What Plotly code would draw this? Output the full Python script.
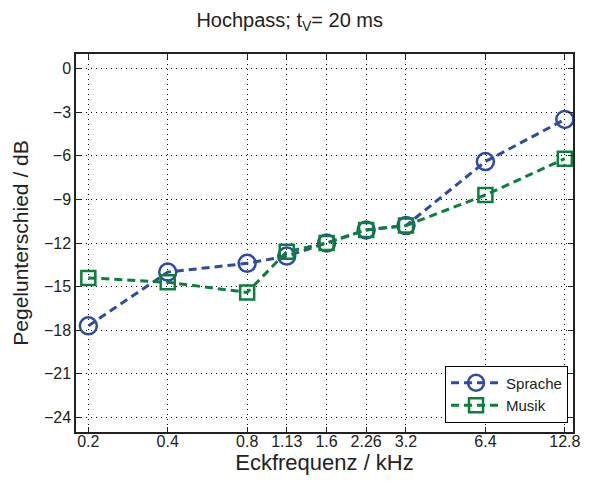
import plotly.graph_objects as go

freqs = [0.2, 0.4, 0.8, 1.13, 1.6, 2.26, 3.2, 6.4, 12.8]
freq_labels = ["0.2", "0.4", "0.8", "1.13", "1.6", "2.26", "3.2", "6.4", "12.8"]
sprache = [-17.7, -14.0, -13.4, -12.9, -12.0, -11.1, -10.8, -6.4, -3.5]
musik = [-14.4, -14.7, -15.4, -12.6, -12.0, -11.1, -10.8, -8.7, -6.2]
y_ticks = [0, -3, -6, -9, -12, -15, -18, -21, -24]
y_labels = ["0", "\u22123", "\u22126", "\u22129", "\u221212", "\u221215", "\u221218", "\u221221", "\u221224"]

blue = "rgb(46,74,168)"
green = "rgb(10,128,60)"

fig = go.Figure()
fig.add_trace(go.Scatter(
    x=freqs, y=sprache, name="Sprache", mode="lines+markers",
    line=dict(color=blue, width=3, dash="8px,5px"),
    marker=dict(symbol="circle-open", size=17, color=blue, line=dict(width=2.5, color=blue)),
))
fig.add_trace(go.Scatter(
    x=freqs, y=musik, name="Musik", mode="lines+markers",
    line=dict(color=green, width=3, dash="8px,5px"),
    marker=dict(symbol="square-open", size=14, color=green, line=dict(width=2.5, color=green)),
))

font_family = "Liberation Sans, Arial, sans-serif"
fig.update_layout(
    width=581, height=468,
    margin=dict(l=68, r=9, t=46, b=42),
    paper_bgcolor="white", plot_bgcolor="white",
    font=dict(family=font_family, color="#222", size=15),
    title=dict(text="Hochpass; t<sub>V</sub>= 20 ms", xref="paper", x=0.43, xanchor="center",
               yref="container", y=0.99, yanchor="top",
               font=dict(size=20, family=font_family, color="#222")),
    showlegend=True,
    legend=dict(x=0.99, y=0.025, xanchor="right", yanchor="bottom",
                bordercolor="black", borderwidth=1, bgcolor="white",
                font=dict(size=15, family=font_family), tracegroupgap=0, itemwidth=50),
)
fig.update_xaxes(
    type="log", range=[-0.7457, 1.1382],
    tickvals=freqs, ticktext=freq_labels,
    showgrid=True, gridcolor="black", griddash="1px,4px", gridwidth=1,
    showline=True, linecolor="#222", linewidth=1.5, mirror="ticks",
    ticks="inside", ticklen=5, tickcolor="#222", ticklabelstandoff=-6,
    title=dict(text="Eckfrequenz / kHz", font=dict(size=22, family=font_family), standoff=2),
    tickfont=dict(size=16), zeroline=False,
)
fig.update_yaxes(
    range=[-25, 1], tickvals=y_ticks, ticktext=y_labels,
    showgrid=True, gridcolor="black", griddash="1px,4px", gridwidth=1,
    showline=True, linecolor="#222", linewidth=1.5, mirror="ticks",
    ticks="inside", ticklen=5, tickcolor="#222",
    title=dict(text="Pegelunterschied / dB", font=dict(size=21, family=font_family), standoff=10),
    tickfont=dict(size=16), zeroline=False,
)
fig.write_html("out.html")
